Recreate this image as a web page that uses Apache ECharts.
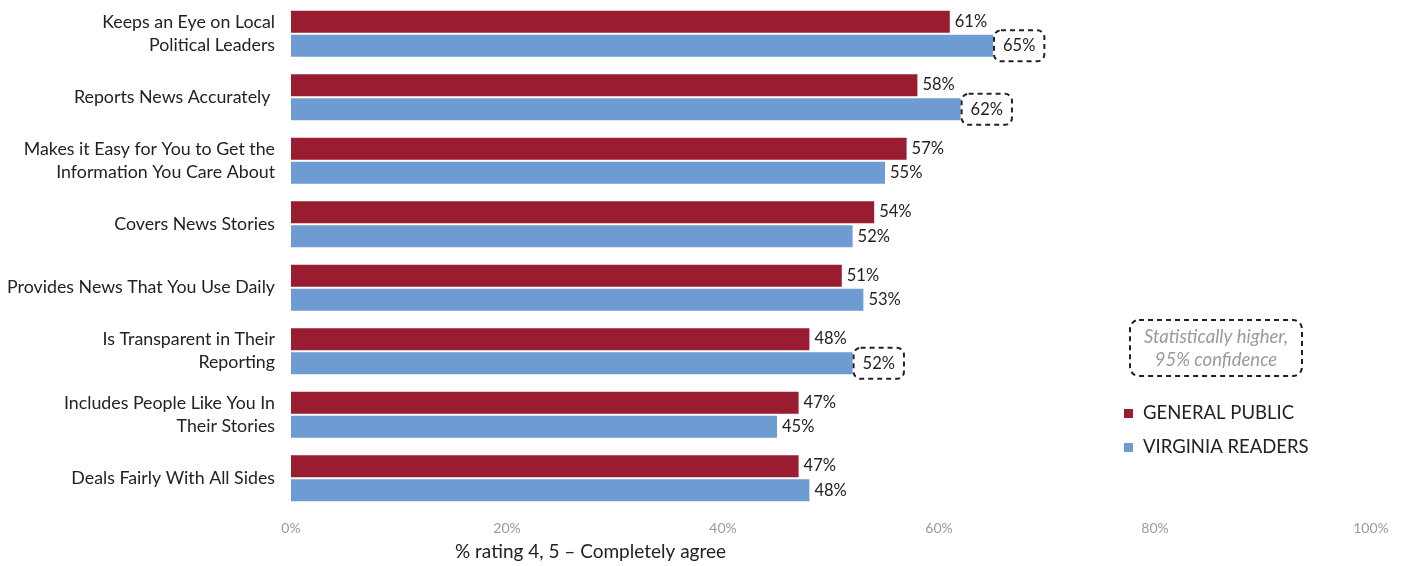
<!DOCTYPE html>
<html><head><meta charset="utf-8">
<script src="https://cdn.jsdelivr.net/npm/echarts@6/dist/echarts.min.js"></script>
<style>html,body{margin:0;padding:0;background:#fff}#c{width:1402px;height:566px}</style>
</head><body><div id="c"></div>
<script>
const categories = [
  "Keeps an Eye on Local\nPolitical Leaders",
  "Reports News Accurately ",
  "Makes it Easy for You to Get the\nInformation You Care About",
  "Covers News Stories",
  "Provides News That You Use Daily",
  "Is Transparent in Their\nReporting",
  "Includes People Like You In\nTheir Stories",
  "Deals Fairly With All Sides"
];
const generalPublic = [61, 58, 57, 54, 51, 48, 47, 47];
const virginiaReaders = [65, 62, 55, 52, 53, 52, 45, 48];
const vrSignificant = [true, true, false, false, false, true, false, false];
const xTicks = [0, 20, 40, 60, 80, 100];

const RED = '#9a1c31', BLUE = '#6e9bd1';
const FONT = 'Lato';
const chart = echarts.init(document.getElementById('c'));

const vrData = virginiaReaders.map((v, i) => vrSignificant[i] ? {
  value: v,
  label: {
    borderType: [5, 4], borderColor: '#222', borderWidth: 2, borderRadius: 7,
    padding: [8, 9, 6, 9], offset: [-4, 0]
  }
} : v);

chart.setOption({
  animation: false,
  textStyle: { fontFamily: FONT },
  grid: { left: 291, width: 1080, top: 2, height: 508, containLabel: false },
  xAxis: {
    type: 'value', min: 0, max: 100, interval: 20,
    splitLine: { show: false }, axisLine: { show: false }, axisTick: { show: false },
    axisLabel: { formatter: v => v + '%', color: '#9a9a9a', fontSize: 14, margin: 11, fontFamily: FONT }
  },
  yAxis: {
    type: 'category', data: categories, inverse: true,
    axisLine: { show: false }, axisTick: { show: false },
    axisLabel: { color: '#222', fontSize: 17.8, lineHeight: 23, margin: 16, fontFamily: FONT }
  },
  legend: {
    orient: 'vertical', left: 1119, top: 399, icon: 'rect', itemWidth: 9, itemHeight: 9,
    itemGap: 15, textStyle: { color: '#222', fontSize: 18.5, fontFamily: FONT, padding: [2, 0, 0, 5] },
    data: ['GENERAL PUBLIC', 'VIRGINIA READERS']
  },
  series: [
    {
      name: 'GENERAL PUBLIC', type: 'bar', data: generalPublic, barWidth: 22, barGap: '10%',
      itemStyle: { color: RED },
      label: { show: true, position: 'right', distance: 5, formatter: '{c}%', color: '#222', fontSize: 16.5, fontFamily: FONT }
    },
    {
      name: 'VIRGINIA READERS', type: 'bar', data: vrData, barWidth: 22, barGap: '10%',
      itemStyle: { color: BLUE },
      label: { show: true, position: 'right', distance: 5, formatter: '{c}%', color: '#222', fontSize: 16.5, fontFamily: FONT }
    }
  ],
  graphic: [
    {
      type: 'rect', shape: { x: 1130, y: 320, width: 172, height: 56, r: 9 },
      style: { fill: 'none', stroke: '#222', lineWidth: 2, lineDash: [5, 4] }
    },
    {
      type: 'text', x: 1216, y: 326,
      style: { text: 'Statistically higher,\n95% confidence', align: 'center', verticalAlign: 'top',
        fill: '#9a9a9a', font: 'italic 18.5px Lato', lineHeight: 23 }
    },
    {
      type: 'text', x: 455, y: 542,
      style: { text: '% rating 4, 5 \u2013 Completely agree', fill: '#222', font: '19px Lato' }
    }
  ]
});
</script></body></html>
